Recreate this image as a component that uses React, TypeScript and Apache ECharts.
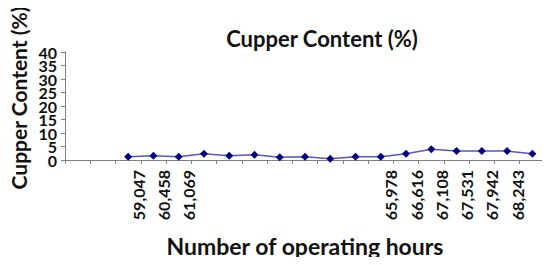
import React, { useEffect, useRef } from "react";
import * as echarts from "echarts";

const hours = ["", "", "59,047", "60,458", "61,069", "", "", "", "", "", "", "", "65,978", "66,616", "67,108", "67,531", "67,942", "68,243", ""];
const copper = [null, null, 1.2, 1.6, 1.2, 2.3, 1.6, 1.9, 1.0, 1.2, 0.5, 1.2, 1.2, 2.3, 4.0, 3.3, 3.3, 3.3, 2.3];
const yTicks = { min: 0, max: 40, interval: 5 };

const FONT = "Lato";
const yLabelStyle = {
  margin: 8,
  showMinLabel: true,
  showMaxLabel: true,
  hideOverlap: false,
  fontFamily: FONT,
  fontWeight: "bold",
  fontSize: 16,
  lineHeight: 13,
  color: "#111",
};

export default function App() {
  const ref = useRef<HTMLDivElement>(null);
  useEffect(() => {
    const chart = echarts.init(ref.current!, null, { renderer: "svg" });
    chart.setOption({
      animation: false,
      title: {
        text: "Cupper Content (%)",
        left: 317,
        top: 22,
        textAlign: "center",
        textStyle: { fontFamily: FONT, fontWeight: "bold", fontSize: 22, color: "#111" },
      },
      grid: { left: 63, right: 5, top: 52, bottom: 105, containLabel: false },
      xAxis: {
        type: "category",
        data: hours,
        boundaryGap: true,
        name: "Number of operating hours",
        nameLocation: "middle",
        nameGap: 74,
        nameMoveOverlap: false,
        nameTextStyle: { fontFamily: FONT, fontWeight: "bold", fontSize: 23, color: "#111" },
        axisLine: { lineStyle: { color: "#7f7f7f", width: 1 } },
        axisTick: { show: true, interval: 0, length: 4, lineStyle: { color: "#7f7f7f" } },
        axisLabel: {
          interval: 0,
          rotate: 90,
          margin: 10,
          verticalAlign: "top",
          padding: [2, 0, 0, 0],
          fontFamily: FONT,
          fontWeight: "bold",
          fontSize: 16,
          color: "#111",
        },
        splitLine: { show: false },
      },
      yAxis: [
        {
          type: "value",
          min: yTicks.min,
          max: yTicks.max,
          interval: yTicks.interval,
          name: "Cupper Content (%)",
          nameLocation: "middle",
          nameRotate: 90,
          nameGap: 36,
          nameMoveOverlap: false,
          nameTextStyle: { fontFamily: FONT, fontWeight: "bold", fontSize: 21, color: "#111", padding: [0, 0, 0, 16] },
          axisLine: { show: true, lineStyle: { color: "#7f7f7f", width: 1 } },
          axisTick: { show: true, length: 4, lineStyle: { color: "#7f7f7f" } },
          axisLabel: {
            ...yLabelStyle,
            formatter: (v: number) => (Math.round(v / yTicks.interval) % 2 === 0 ? String(v) : ""),
          },
          splitLine: { show: false },
        },
        {
          type: "value",
          position: "left",
          min: yTicks.min,
          max: yTicks.max,
          interval: yTicks.interval,
          axisLine: { show: false },
          axisTick: { show: false },
          axisLabel: {
            ...yLabelStyle,
            formatter: (v: number) => (Math.round(v / yTicks.interval) % 2 === 1 ? String(v) : ""),
          },
          splitLine: { show: false },
        },
      ],
      series: [
        {
          type: "line",
          data: copper,
          yAxisIndex: 0,
          connectNulls: false,
          symbol: "diamond",
          symbolSize: 8,
          lineStyle: { color: "#5555cc", width: 1.5 },
          itemStyle: { color: "#000080" },
        },
      ],
    });
    return () => chart.dispose();
  }, []);
  return <div ref={ref} style={{ width: 550, height: 265, margin: -8 }} />;
}
